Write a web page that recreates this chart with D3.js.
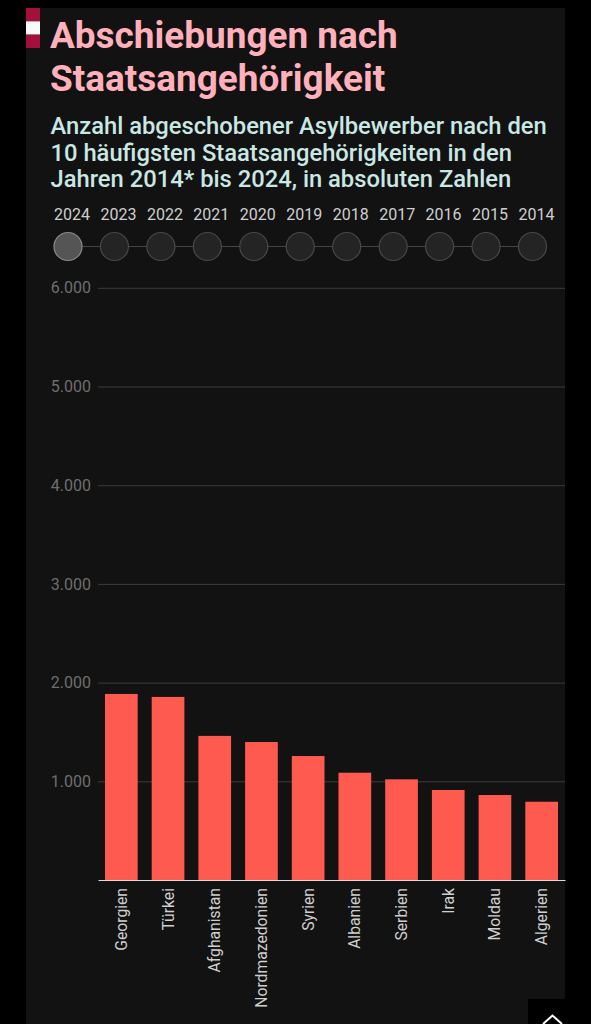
<!DOCTYPE html>
<html lang="de">
<head>
<meta charset="utf-8">
<script src="https://cdn.jsdelivr.net/npm/d3@7"></script>
<style>
html,body{margin:0;padding:0;background:#000;width:591px;height:1024px;overflow:hidden}
svg{display:block;font-family:Roboto,sans-serif}
</style>
</head>
<body>
<svg id="c" width="591" height="1024"></svg>
<script>
const titleLines = ["Abschiebungen nach", "Staatsangehörigkeit"];
const subtitleLines = ["Anzahl abgeschobener Asylbewerber nach den", "10 häufigsten Staatsangehörigkeiten in den", "Jahren 2014* bis 2024, in absoluten Zahlen"];
const years = ["2024","2023","2022","2021","2020","2019","2018","2017","2016","2015","2014"];
const countries = ["Georgien","Türkei","Afghanistan","Nordmazedonien","Syrien","Albanien","Serbien","Irak","Moldau","Algerien"];
const values = [1885,1855,1460,1398,1256,1087,1020,912,861,793];
const yTicks = [1000,2000,3000,4000,5000,6000];
const yTickLabels = ["1.000","2.000","3.000","4.000","5.000","6.000"];

const svg = d3.select("#c");
svg.append("rect").attr("x",26).attr("y",8).attr("width",539).attr("height",1016).attr("fill","#121212");

// flag
const flag = d3.scaleBand().domain([0,1,2]).range([8,48]);
svg.selectAll("rect.flag").data(["#a50f3c","#fafafa","#a50f3c"]).join("rect").attr("class","flag")
  .attr("x",26).attr("width",14).attr("y",(d,i)=>flag(i)).attr("height",flag.bandwidth()).attr("fill",d=>d);

// headings
svg.selectAll("text.title").data(titleLines).join("text").attr("class","title")
  .attr("x",50).attr("y",(d,i)=>47.5+i*43.5).attr("font-size",36.95).attr("font-weight",700).attr("fill","#ffb0ba").text(d=>d);
svg.selectAll("text.sub").data(subtitleLines).join("text").attr("class","sub")
  .attr("x",50.5).attr("y",(d,i)=>134.3+i*26.3).attr("font-size",23.75).attr("font-weight",500).attr("fill","#c9e8e4").text(d=>d);

// year selector
const tx = d3.scalePoint().domain(years).range([68,532.5]);
svg.append("line").attr("x1",tx(years[0])).attr("x2",tx(years[years.length-1])).attr("y1",246.5).attr("y2",246.5).attr("stroke","#444").attr("stroke-width",1);
svg.selectAll("circle.yr").data(years).join("circle").attr("class","yr")
  .attr("cx",d=>tx(d)).attr("cy",246.5).attr("r",14)
  .attr("fill",(d,i)=>i===0?"#555":"#242424")
  .attr("stroke",(d,i)=>i===0?"#8a8a8a":"#484848").attr("stroke-width",1.2);
svg.selectAll("text.yr").data(years).join("text").attr("class","yr")
  .attr("x",d=>tx(d)+4).attr("y",220).attr("text-anchor","middle").attr("font-size",16).attr("fill","#cfcfcf").text(d=>d);

// chart
const x = d3.scaleBand().domain(countries).range([98,565]).paddingInner(0.3).paddingOuter(0.15);
const y = d3.scaleLinear().domain([0,6000]).range([880,287.8]);

const yAxis = svg.append("g").attr("transform","translate(98,0)")
  .call(d3.axisLeft(y).tickValues(yTicks).tickSize(0).tickPadding(7).tickFormat((d,i)=>yTickLabels[i]));
yAxis.select(".domain").remove();
yAxis.selectAll("text").attr("font-family","Roboto,sans-serif").attr("font-size",16).attr("fill","#6e6e6e");
yAxis.selectAll("line").attr("x2",467).attr("stroke","#3c3c3c").attr("stroke-width",1);

svg.selectAll("rect.bar").data(countries).join("rect").attr("class","bar")
  .attr("x",d=>x(d)).attr("width",x.bandwidth())
  .attr("y",(d,i)=>y(values[i])).attr("height",(d,i)=>y(0)-y(values[i]))
  .attr("fill","#ff5a4f");

const xAxis = svg.append("g").attr("transform","translate(0,880)")
  .call(d3.axisBottom(x).tickSize(0).tickPadding(0));
xAxis.select(".domain").attr("stroke","#dcdcdc").attr("stroke-width",1.2);
xAxis.selectAll("text")
  .attr("font-family","Roboto,sans-serif").attr("font-size",15.7).attr("fill","#cfcfcf")
  .attr("text-anchor","end").attr("dy",null).attr("y",0)
  .attr("transform",d=>"translate(0,8) rotate(-90) translate(0,5.5)");

// back-to-top control
svg.append("rect").attr("x",528).attr("y",999).attr("width",37).attr("height",25).attr("fill","#000");
svg.append("path").attr("d",d3.line()([[543,1024],[552.5,1015.5],[562,1024]])).attr("fill","none").attr("stroke","#fff").attr("stroke-width",2);
</script>
</body>
</html>
